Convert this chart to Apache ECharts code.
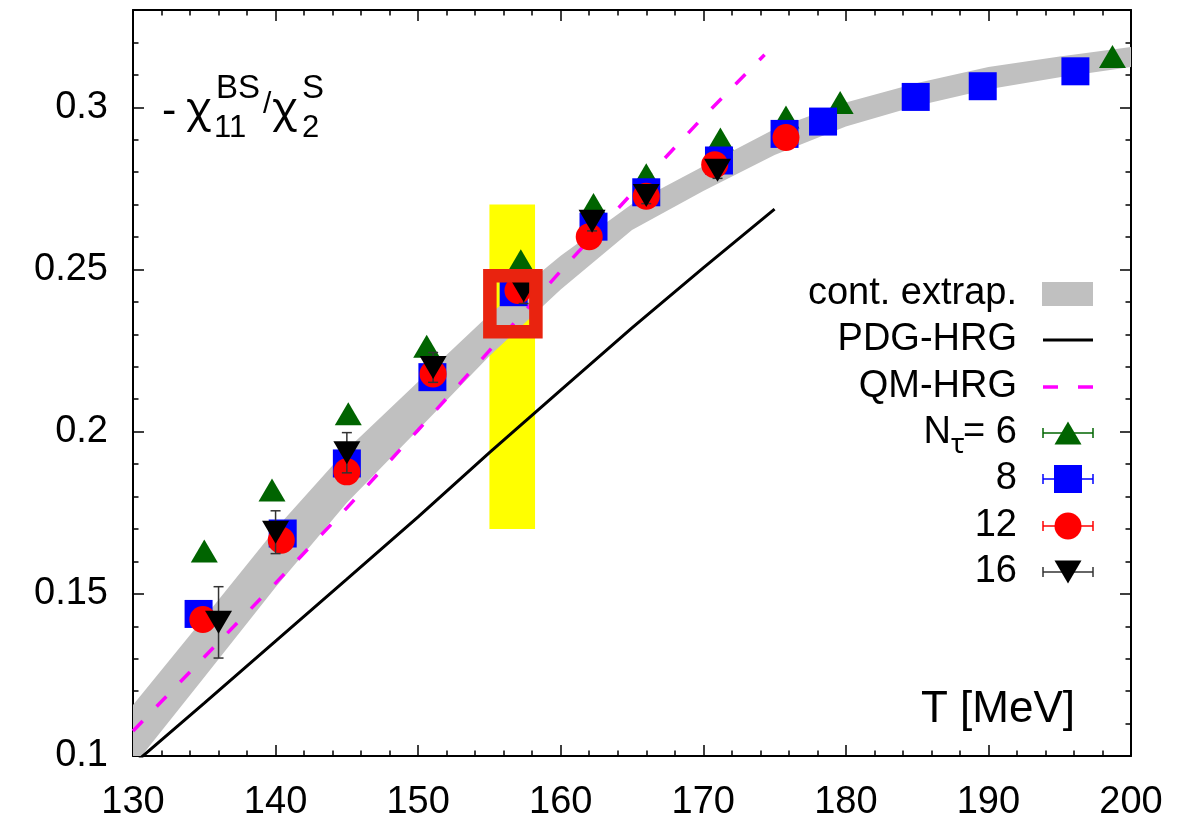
<!DOCTYPE html>
<html><head><meta charset="utf-8">
<script src="https://cdn.jsdelivr.net/npm/echarts@6/dist/echarts.min.js"></script>
<style>html,body{margin:0;padding:0;background:#fff}#c{width:1201px;height:822px}</style>
</head><body><div id="c"></div>
<script>
// ---- data ----
const xTicks = [130, 140, 150, 160, 170, 180, 190, 200];
const yTicks = ['0.1', '0.15', '0.2', '0.25', '0.3'];

const T6  = [135.0, 139.75, 145.1, 150.6, 157.2, 162.3, 166.0, 171.2, 175.8, 179.6, 198.7];
const R6  = [0.1632, 0.1820, 0.2055, 0.2263, 0.2527, 0.2700, 0.2792, 0.2902, 0.2970, 0.3015, 0.3157];

const T8  = [134.6, 140.5, 145.0, 151.0, 156.7, 162.3, 166.0, 171.1, 175.7, 178.4, 184.9, 189.6, 196.1];
const R8  = [0.1438, 0.1686, 0.1902, 0.2168, 0.2430, 0.2632, 0.2738, 0.2836, 0.2918, 0.2956, 0.3032, 0.3065, 0.3111];

const T12 = [134.9, 140.4, 145.0, 151.05, 157.0, 162.0, 166.0, 170.8, 175.8];
const R12 = [0.1421, 0.1665, 0.1876, 0.2178, 0.2435, 0.2601, 0.2726, 0.2823, 0.2907];

const T16 = [136.0, 140.0, 145.0, 151.05, 157.4, 162.2, 166.0, 171.0];
const R16 = [0.1412, 0.1690, 0.1935, 0.2198, 0.2435, 0.2649, 0.2728, 0.2806];
const E16 = [0.0110, 0.0066, 0.0062, 0.0046, 0.0040, 0.0030, 0.0025, 0.0025];

const pdgT = [130, 135, 140, 145, 150, 155, 160, 165, 170, 175];
const pdgR = [0.0974, 0.1163, 0.1354, 0.1545, 0.1737, 0.1935, 0.2128, 0.2320, 0.2505, 0.2686];

const qmT = [130, 135, 140, 145, 150, 155, 160, 165, 170, 174.3];
const qmR = [0.1077, 0.1305, 0.1533, 0.1765, 0.2005, 0.2250, 0.2495, 0.2735, 0.2970, 0.3162];

const bandT = [130, 135, 140, 145, 150, 155, 160, 165, 170, 175, 180, 185, 190, 195, 200];
const bandC = [0.1062, 0.1335, 0.1610, 0.1863, 0.2080, 0.2297, 0.2490, 0.2662, 0.2780, 0.2893, 0.2978, 0.3040, 0.3090, 0.3125, 0.3155];
const bandH = [0.0095, 0.0092, 0.0090, 0.0082, 0.0074, 0.0064, 0.0052, 0.0040, 0.0038, 0.0040, 0.0037, 0.0035, 0.0034, 0.0032, 0.0031];

const yellowX = [155.0, 158.2];
const yellowY = [0.17, 0.27];
const boxX = [155.03, 158.26];
const boxY = [0.2308, 0.2481];

// ---- chart ----
const FONT = '"Liberation Sans", Arial, Helvetica, sans-serif';
const GREEK = '"Noto Sans", "DejaVu Sans", sans-serif';
const chart = echarts.init(document.getElementById('c'), null, {renderer: 'canvas'});

function xAx(pos, labels) {
  return {
    type: 'value', min: 130, max: 200, interval: 10, position: pos,
    axisLine: {show: true, onZero: false, lineStyle: {color: '#000', width: 2}},
    axisTick: {show: true, inside: true, length: 11, lineStyle: {color: '#000', width: 1.5}},
    minorTick: {show: true, splitNumber: 5, length: 5.5, lineStyle: {color: '#000', width: 1.5}},
    splitLine: {show: false}, minorSplitLine: {show: false},
    axisLabel: {show: labels, fontSize: 38, color: '#000', fontFamily: FONT, margin: 28,
      formatter: v => xTicks.includes(Math.round(v)) ? String(Math.round(v)) : ''}
  };
}
function yAx(pos, major) {
  return {
    type: 'value', min: 0.1, max: 0.33, interval: major ? 0.05 : 0.01, position: pos,
    axisLine: {show: major, onZero: false, lineStyle: {color: '#000', width: 2}},
    axisTick: {show: true, inside: true, length: major ? 11 : 5.5, lineStyle: {color: '#000', width: 1.5}},
    splitLine: {show: false},
    axisLabel: {show: major && pos === 'left', fontSize: 38, color: '#000', fontFamily: FONT, margin: 25,
      showMaxLabel: false,
      formatter: v => { const s = String(+v.toFixed(2)); return yTicks.includes(s) ? s : ''; }}
  };
}

function pairs(xs, ys) { return xs.map((x, i) => [x, ys[i]]); }

const option = {
  animation: false,
  backgroundColor: '#fff',
  grid: {left: 133, right: 70, top: 10, bottom: 63},
  xAxis: [xAx('bottom', true), xAx('top', false)],
  yAxis: [yAx('left', true), yAx('left', false), yAx('right', true), yAx('right', false)],
  series: [
    { // yellow band
      type: 'custom', clip: true, silent: true, z: 1,
      data: [[yellowX[0], yellowY[0], yellowX[1], yellowY[1]]],
      renderItem: (p, api) => {
        const a = api.coord([api.value(0), api.value(3)]);
        const b = api.coord([api.value(2), api.value(1)]);
        return {type: 'rect', shape: {x: a[0], y: a[1], width: b[0] - a[0], height: b[1] - a[1]},
          style: {fill: '#ffff00'}};
      }
    },
    { // continuum band
      type: 'custom', clip: true, silent: true, z: 2,
      data: [[bandT[0], bandC[0]]],
      renderItem: (p, api) => {
        const pts = [];
        for (let i = 0; i < bandT.length; i++) pts.push(api.coord([bandT[i], bandC[i] + bandH[i]]));
        for (let i = bandT.length - 1; i >= 0; i--) pts.push(api.coord([bandT[i], bandC[i] - bandH[i]]));
        return {type: 'polygon', shape: {points: pts}, style: {fill: '#c0c0c0'}};
      }
    },
    {
      type: 'line', name: 'PDG-HRG', data: pairs(pdgT, pdgR), showSymbol: false, silent: true, z: 3,
      lineStyle: {color: '#000', width: 3}
    },
    {
      type: 'line', name: 'QM-HRG', data: pairs(qmT, qmR), showSymbol: false, silent: true, z: 3,
      lineStyle: {color: '#ff00ff', width: 3.5, type: [14, 20]}
    },
    {
      type: 'scatter', name: '6', data: pairs(T6, R6), symbol: 'triangle', symbolSize: [27, 23], z: 4,
      silent: true, itemStyle: {color: '#006400', opacity: 1}
    },
    {
      type: 'scatter', name: '8', data: pairs(T8, R8), symbol: 'rect', symbolSize: [28, 28], z: 5,
      silent: true, itemStyle: {color: '#0000ff', opacity: 1}
    },
    {
      type: 'scatter', name: '12', data: pairs(T12, R12), symbol: 'circle', symbolSize: 27, z: 6,
      silent: true, itemStyle: {color: '#ff0000', opacity: 1}
    },
    { // error bars Nt=16
      type: 'custom', silent: true, z: 7,
      data: T16.map((t, i) => [t, R16[i] - E16[i], R16[i] + E16[i]]),
      renderItem: (p, api) => {
        const lo = api.coord([api.value(0), api.value(1)]);
        const hi = api.coord([api.value(0), api.value(2)]);
        const st = {stroke: '#333', lineWidth: 1.5};
        return {type: 'group', children: [
          {type: 'line', shape: {x1: lo[0], y1: lo[1], x2: hi[0], y2: hi[1]}, style: st},
          {type: 'line', shape: {x1: lo[0] - 5, y1: lo[1], x2: lo[0] + 5, y2: lo[1]}, style: st},
          {type: 'line', shape: {x1: hi[0] - 5, y1: hi[1], x2: hi[0] + 5, y2: hi[1]}, style: st}
        ]};
      }
    },
    {
      type: 'scatter', name: '16', data: pairs(T16, R16), symbol: 'triangle', symbolRotate: 180,
      symbolSize: [27, 23], z: 8, silent: true, itemStyle: {color: '#000', opacity: 1}
    },
    { // red highlight square
      type: 'custom', silent: true, z: 9,
      data: [[boxX[0], boxY[0], boxX[1], boxY[1]]],
      renderItem: (p, api) => {
        const a = api.coord([api.value(0), api.value(3)]);
        const b = api.coord([api.value(2), api.value(1)]);
        return {type: 'rect', shape: {x: a[0], y: a[1], width: b[0] - a[0], height: b[1] - a[1]},
          style: {fill: 'none', stroke: '#e9230f', lineWidth: 13.5}};
      }
    }
  ],
  graphic: []
};

// ---- text & legend graphics ----
const G = [];
function txt(s, x, y, size, align, fam) {
  G.push({type: 'text', x: x, y: y, z: 100, silent: true,
    style: {text: s, fontSize: size, fontFamily: fam || FONT, fill: '#000',
      align: align || 'left', verticalAlign: 'middle',
      textAlign: align || 'left', textVerticalAlign: 'middle'}});
}
// y label
txt('-', 162, 112, 43);
txt('\u03c7', 186, 110, 42, 'left', GREEK);
txt('11', 214, 128, 31);
txt('BS', 216, 89, 33);
txt('/', 263, 105, 30);
txt('\u03c7', 272, 110, 42, 'left', GREEK);
txt('2', 302, 128, 31);
txt('S', 302, 89, 33);
// x label
txt('T [MeV]', 1075, 710, 44, 'right');

// legend
const LX = 1017, IX1 = 1043, IX2 = 1093, IC = 1068;
const LY = [294, 340, 387, 433, 479, 526, 572];
txt('cont. extrap.', LX, LY[0], 38, 'right');
txt('PDG-HRG', LX, LY[1], 38, 'right');
txt('QM-HRG', LX, LY[2], 38, 'right');
txt('= 6', LX, LY[3], 38, 'right');
txt('\u03c4', 951, LY[3] + 12, 28, 'left', GREEK);
txt('N', 951, LY[3], 38, 'right');
txt('8', LX, LY[4], 38, 'right');
txt('12', LX, LY[5], 38, 'right');
txt('16', LX, LY[6], 38, 'right');

G.push({type: 'rect', silent: true, shape: {x: 1042, y: LY[0] - 12, width: 51, height: 24}, style: {fill: '#c0c0c0'}});
G.push({type: 'line', silent: true, shape: {x1: IX1, y1: LY[1], x2: IX2, y2: LY[1]}, style: {stroke: '#000', lineWidth: 3}});
G.push({type: 'line', silent: true, shape: {x1: IX1, y1: LY[2], x2: IX2, y2: LY[2]}, style: {stroke: '#ff00ff', lineWidth: 3.5, lineDash: [15, 20]}});
const legCols = ['#006400', '#0000ff', '#ff0000', '#333'];
for (let k = 0; k < 4; k++) {
  const y = LY[3 + k], c = legCols[k];
  G.push({type: 'line', silent: true, shape: {x1: IX1, y1: y, x2: IX2, y2: y}, style: {stroke: c, lineWidth: 1.5}});
  G.push({type: 'line', silent: true, shape: {x1: IX1, y1: y - 5, x2: IX1, y2: y + 5}, style: {stroke: c, lineWidth: 1.5}});
  G.push({type: 'line', silent: true, shape: {x1: IX2, y1: y - 5, x2: IX2, y2: y + 5}, style: {stroke: c, lineWidth: 1.5}});
}
G.push({type: 'polygon', silent: true, shape: {points: [[IC, LY[3] - 11.5], [IC + 13.5, LY[3] + 11.5], [IC - 13.5, LY[3] + 11.5]]}, style: {fill: '#006400'}});
G.push({type: 'rect', silent: true, shape: {x: IC - 14, y: LY[4] - 14, width: 28, height: 28}, style: {fill: '#0000ff'}});
G.push({type: 'circle', silent: true, shape: {cx: IC, cy: LY[5], r: 13.5}, style: {fill: '#ff0000'}});
G.push({type: 'polygon', silent: true, shape: {points: [[IC, LY[6] + 11.5], [IC + 13.5, LY[6] - 11.5], [IC - 13.5, LY[6] - 11.5]]}, style: {fill: '#000'}});

option.graphic = G;
chart.setOption(option);
</script>
</body></html>
